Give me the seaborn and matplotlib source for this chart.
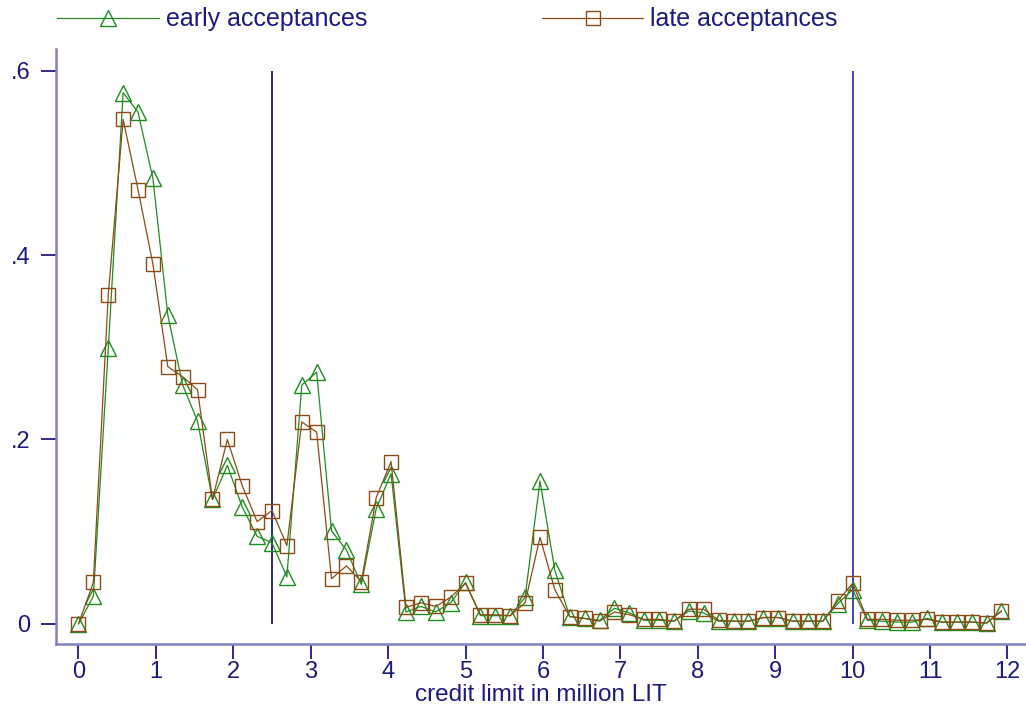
import matplotlib
matplotlib.use("Agg")
import matplotlib.pyplot as plt
import seaborn as sns

# credit limit grid (million LIT)
credit_limit = [0.0, 0.192, 0.385, 0.577, 0.769, 0.962, 1.154, 1.346, 1.538, 1.731,
                1.923, 2.115, 2.308, 2.5, 2.692, 2.885, 3.077, 3.269, 3.462, 3.654,
                3.846, 4.038, 4.231, 4.423, 4.615, 4.808, 5.0, 5.192, 5.385, 5.577,
                5.769, 5.962, 6.154, 6.346, 6.538, 6.731, 6.923, 7.115, 7.308, 7.5,
                7.692, 7.885, 8.077, 8.269, 8.462, 8.654, 8.846, 9.038, 9.231, 9.423,
                9.615, 9.808, 10.0, 10.192, 10.385, 10.577, 10.769, 10.962, 11.154,
                11.346, 11.538, 11.731, 11.923]

early = [0.0, 0.030, 0.299, 0.576, 0.555, 0.483, 0.335, 0.259, 0.220, 0.135,
         0.172, 0.127, 0.095, 0.088, 0.051, 0.259, 0.273, 0.101, 0.080, 0.043,
         0.125, 0.163, 0.013, 0.019, 0.013, 0.023, 0.045, 0.009, 0.009, 0.009,
         0.029, 0.155, 0.058, 0.008, 0.006, 0.004, 0.017, 0.012, 0.004, 0.004,
         0.003, 0.014, 0.012, 0.003, 0.003, 0.003, 0.007, 0.007, 0.003, 0.003,
         0.003, 0.022, 0.037, 0.004, 0.003, 0.002, 0.002, 0.006, 0.002, 0.002,
         0.002, 0.001, 0.014]

late = [0.0, 0.045, 0.357, 0.547, 0.471, 0.390, 0.279, 0.268, 0.254, 0.135,
        0.200, 0.150, 0.111, 0.123, 0.085, 0.219, 0.208, 0.049, 0.063, 0.046,
        0.137, 0.176, 0.018, 0.023, 0.019, 0.029, 0.044, 0.010, 0.010, 0.009,
        0.023, 0.094, 0.037, 0.008, 0.006, 0.003, 0.013, 0.010, 0.005, 0.005,
        0.003, 0.016, 0.016, 0.004, 0.003, 0.003, 0.007, 0.007, 0.003, 0.003,
        0.003, 0.025, 0.044, 0.005, 0.005, 0.004, 0.004, 0.005, 0.002, 0.002,
        0.002, 0.001, 0.014]

cutoffs = [2.5, 10]
x_ticks = list(range(0, 13))
y_ticks = [0, 0.2, 0.4, 0.6]
y_labels = ["0", ".2", ".4", ".6"]

navy = "#1a1a80"
green = "#1e8c1e"
brown = "#8c4a14"

sns.set_style("white")
plt.rcParams["font.family"] = ["Liberation Sans", "DejaVu Sans"]

fig = plt.figure(figsize=(10.26, 7.13), dpi=100)
ax = fig.add_axes([0.0546, 0.0968, 0.9454, 0.834])

for c, col in zip(cutoffs, ["#1a1a6a", "#3535b0"]):
    ax.vlines(c, 0, 0.6, color=col, linewidth=1.3, zorder=1)

sns.lineplot(x=credit_limit, y=early, ax=ax, color=green, linewidth=0.9,
             marker="^", markersize=11.5, markerfacecolor="none",
             markeredgecolor=green, markeredgewidth=1.0,
             label="early acceptances", zorder=3)
sns.lineplot(x=credit_limit, y=late, ax=ax, color=brown, linewidth=0.9,
             marker="s", markersize=10, markerfacecolor="none",
             markeredgecolor=brown, markeredgewidth=1.0,
             label="late acceptances", zorder=4)

ax.set_xlim(-0.29, 12.24)
ax.set_ylim(-0.0217, 0.623)
ax.set_xticks(x_ticks)
ax.set_yticks(y_ticks)
ax.set_yticklabels(y_labels)
ax.set_xlabel("credit limit in million LIT", fontsize=17.5, color=navy, labelpad=1)
ax.set_ylabel("")

for side in ["top", "right"]:
    ax.spines[side].set_visible(False)
for side in ["left", "bottom"]:
    ax.spines[side].set_color("#8080c4")
    ax.spines[side].set_linewidth(1.8)

ax.tick_params(axis="both", direction="out", length=10.5, width=1.3, color=navy,
               labelcolor=navy, labelsize=17)
ax.tick_params(axis="x", bottom=True, pad=1.5)
ax.tick_params(axis="y", left=True, pad=8)

handles, labels = ax.get_legend_handles_labels()
ax.get_legend().remove()
fig.legend(handles, labels, loc="center left", bbox_to_anchor=(0.034, 0.973),
           ncol=2, frameon=False, fontsize=18, labelcolor=navy,
           handlelength=4.05, handletextpad=0.28, columnspacing=7.0)

fig.savefig("out.png", dpi=100)
